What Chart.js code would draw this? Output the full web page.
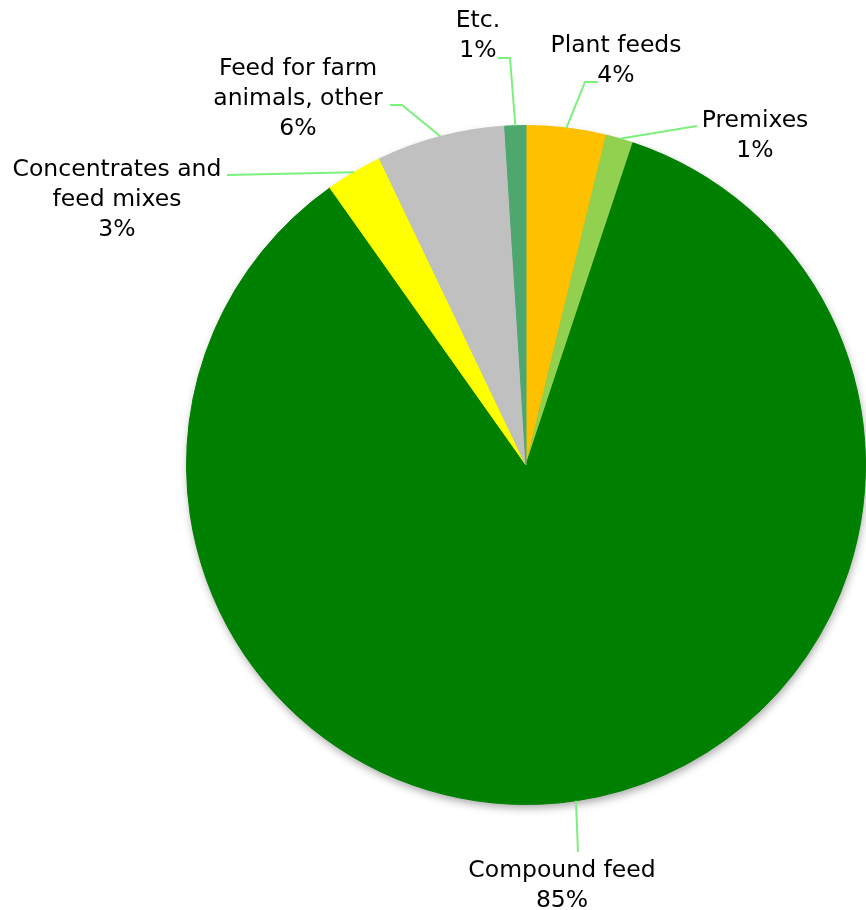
<!DOCTYPE html>
<html>
<head>
<meta charset="utf-8">
<script src="https://cdn.jsdelivr.net/npm/chart.js@4.4.0/dist/chart.umd.min.js"></script>
<style>
    body { margin: 0; background: #ffffff; }
    #wrap { width: 866px; height: 910px; }
</style>
</head>
<body>
<div id="wrap"><canvas id="myChart" width="866" height="910"></canvas></div>
<script>
    // slices clockwise from 12 o'clock
    var labels = [
        ['Plant feeds'],
        ['Premixes'],
        ['Compound feed'],
        ['Concentrates and', 'feed mixes'],
        ['Feed for farm', 'animals, other'],
        ['Etc.']
    ];
    var shares = [3.8, 1.3, 85.1, 2.7, 6.1, 1.0];
    var colors = ['#FFC000', '#92D050', '#008000', '#FFFF00', '#C0C0C0', '#4EA76F'];

    // where each label sits and how its leader line bends
    var labelPos = [
        { x: 616, y: 52, knee: [585, 82], end: [598, 82] },
        { x: 755, y: 127, knee: [697, 126], end: [697, 126] },
        { x: 562, y: 877, knee: [578, 852], end: [578, 852] },
        { x: 117, y: 176, knee: [227, 175], end: [227, 175] },
        { x: 298, y: 75, knee: [402, 105], end: [390, 105] },
        { x: 478, y: 27, knee: [510, 58], end: [498, 58] }
    ];

    var fontStr = '23.5px "DejaVu Sans"';
    var lineH = 30;

    var pieShadow = {
        id: 'pieShadow',
        beforeDatasetsDraw: function (chart) {
            var arc = chart.getDatasetMeta(0).data[0];
            if (!arc) return;
            var ctx = chart.ctx;
            ctx.save();
            ctx.shadowColor = 'rgba(0,0,0,0.35)';
            ctx.shadowBlur = 8;
            ctx.shadowOffsetX = 1;
            ctx.shadowOffsetY = 4;
            ctx.fillStyle = '#008000';
            ctx.beginPath();
            ctx.arc(arc.x, arc.y, arc.outerRadius - 0.5, 0, Math.PI * 2);
            ctx.fill();
            ctx.restore();
        }
    };

    var sliceLabels = {
        id: 'sliceLabels',
        afterDatasetsDraw: function (chart) {
            var ctx = chart.ctx;
            var meta = chart.getDatasetMeta(0);
            ctx.save();
            meta.data.forEach(function (arc, i) {
                var p = labelPos[i];
                var mid = (arc.startAngle + arc.endAngle) / 2;
                var ax = arc.x + Math.cos(mid) * arc.outerRadius;
                var ay = arc.y + Math.sin(mid) * arc.outerRadius;
                ctx.strokeStyle = '#7CF07C';
                ctx.lineWidth = 2;
                ctx.beginPath();
                ctx.moveTo(ax, ay);
                ctx.lineTo(p.knee[0], p.knee[1]);
                ctx.lineTo(p.end[0], p.end[1]);
                ctx.stroke();

                var lines = labels[i].concat([Math.round(shares[i]) + '%']);
                ctx.font = fontStr;
                ctx.fillStyle = '#000000';
                ctx.textAlign = 'center';
                ctx.textBaseline = 'alphabetic';
                for (var k = 0; k < lines.length; k++) {
                    ctx.fillText(lines[k], p.x, p.y + k * lineH);
                }
            });
            ctx.restore();
        }
    };

    var data = {
        labels: labels.map(function (l) { return l.join(' '); }),
        datasets: [{
            data: shares,
            backgroundColor: colors,
            borderColor: colors,
            borderWidth: 1
        }]
    };

    var config = {
        type: 'pie',
        data: data,
        options: {
            responsive: false,
            animation: false,
            layout: {
                padding: { left: 186, right: 0, top: 125, bottom: 105 }
            },
            plugins: {
                legend: { display: false },
                tooltip: { enabled: false },
                title: { display: false }
            }
        },
        plugins: [pieShadow, sliceLabels]
    };

    var ctx = document.getElementById('myChart').getContext('2d');
    var myChart = new Chart(ctx, config);
</script>
</body>
</html>
